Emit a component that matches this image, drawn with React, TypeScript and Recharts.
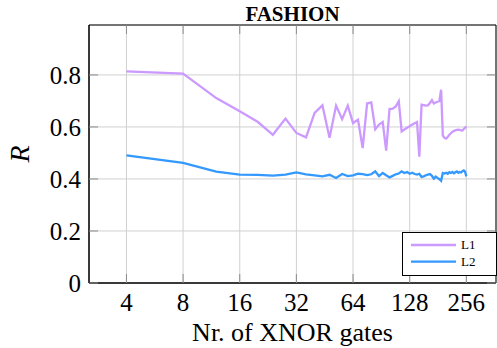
import { LineChart, Line, XAxis, YAxis, CartesianGrid, Legend, ReferenceArea } from 'recharts'

// number of XNOR gates per run
const GATES = [
  4, 8, 12, 16, 20, 24, 28, 32,
  36, 40, 44, 48, 52, 56, 60, 64,
  68, 72, 76, 80, 84, 88, 92, 96,
  100, 104, 108, 112, 116, 120, 124, 128,
  132, 136, 140, 144, 148, 152, 156, 160,
  164, 168, 172, 176, 180, 184, 188, 192,
  196, 200, 204, 208, 212, 216, 220, 224,
  228, 232, 236, 240, 244, 248, 252, 256,
]

const L1 = [
  0.814, 0.805, 0.711, 0.66, 0.619, 0.57, 0.632, 0.577,
  0.56, 0.654, 0.683, 0.558, 0.682, 0.63, 0.682, 0.615,
  0.628, 0.519, 0.69, 0.694, 0.591, 0.609, 0.619, 0.509,
  0.669, 0.67, 0.679, 0.699, 0.583, 0.59, 0.597, 0.603,
  0.609, 0.614, 0.619, 0.486, 0.686, 0.684, 0.682, 0.683,
  0.692, 0.703, 0.69, 0.694, 0.697, 0.699, 0.743, 0.567,
  0.558, 0.555, 0.562, 0.57, 0.576, 0.582, 0.585, 0.587,
  0.589, 0.59, 0.589, 0.587, 0.586, 0.592, 0.597, 0.601,
]

const L2 = [
  0.491, 0.462, 0.428, 0.417, 0.416, 0.413, 0.417, 0.425,
  0.418, 0.414, 0.41, 0.416, 0.404, 0.419, 0.411, 0.414,
  0.42, 0.419, 0.415, 0.418, 0.429, 0.411, 0.423, 0.414,
  0.406, 0.412, 0.418, 0.421, 0.429, 0.423, 0.427, 0.42,
  0.424, 0.419, 0.417, 0.42, 0.408, 0.41, 0.414, 0.417,
  0.419, 0.412, 0.401, 0.409, 0.404, 0.399, 0.393, 0.423,
  0.421, 0.424, 0.42, 0.426, 0.423, 0.427, 0.422, 0.426,
  0.429, 0.424, 0.427, 0.425, 0.43, 0.433, 0.428, 0.41,
]

const X_TICKS = [4, 8, 16, 32, 64, 128, 256]
const Y_TICKS = [0, 0.2, 0.4, 0.6, 0.8]
const X_DOMAIN = [2.53, 368]
const Y_DOMAIN = [0, 0.992]

const FONT = '"Liberation Serif", "DejaVu Serif", serif'
const L1_COLOR = '#cc99ff'
const L2_COLOR = '#3399ff'
const GRID_COLOR = '#d0d0d0'
const TICK_COLOR = '#8c8c8c'
const TICK_LEN = 9
const PLOT_TOP = 25
const PLOT_RIGHT = 496

const data = GATES.map((g, i) => ({ gates: g, l1: L1[i], l2: L2[i] }))

// ticks are drawn inward on both sides, pgfplots style
// eslint-disable-next-line @typescript-eslint/no-explicit-any
function XTick({ x, y, payload }: any) {
  return (
    <g>
      <line x1={x} x2={x} y1={y} y2={y - TICK_LEN} stroke={TICK_COLOR} />
      <line x1={x} x2={x} y1={PLOT_TOP} y2={PLOT_TOP + TICK_LEN} stroke={TICK_COLOR} />
      <text x={x} y={y + 28} textAnchor="middle" fontSize={25} fontFamily={FONT} fill="#000">
        {payload.value}
      </text>
    </g>
  )
}

// eslint-disable-next-line @typescript-eslint/no-explicit-any
function YTick({ x, y, payload }: any) {
  return (
    <g>
      <line x1={x} x2={x + TICK_LEN} y1={y} y2={y} stroke={TICK_COLOR} />
      <line x1={PLOT_RIGHT} x2={PLOT_RIGHT - TICK_LEN} y1={y} y2={y} stroke={TICK_COLOR} />
      <text x={x - 8} y={y + 9} textAnchor="end" fontSize={25} fontFamily={FONT} fill="#000">
        {String(payload.value)}
      </text>
    </g>
  )
}

// eslint-disable-next-line @typescript-eslint/no-explicit-any
function YLabel(props: any) {
  const vb = props.viewBox
  const cy = vb.y + vb.height / 2
  return (
    <text
      x={29}
      y={cy}
      transform={`rotate(-90 29 ${cy})`}
      textAnchor="middle"
      fontSize={28}
      fontStyle="italic"
      fontFamily={FONT}
      fill="#000"
    >
      R
    </text>
  )
}

function LegendBox() {
  return (
    <div style={{ width: 95, height: 44, boxSizing: 'border-box', border: '1px solid #000', background: '#fff' }}>
      <svg width={93} height={42} style={{ display: 'block' }}>
        <line x1={8} x2={53} y1={12} y2={12} stroke={L1_COLOR} strokeWidth={2.3} />
        <text x={58} y={16} fontSize={13} fontFamily={FONT} fill="#000">L1</text>
        <line x1={8} x2={53} y1={28.7} y2={28.7} stroke={L2_COLOR} strokeWidth={2.3} />
        <text x={58} y={32.5} fontSize={13} fontFamily={FONT} fill="#000">L2</text>
      </svg>
    </div>
  )
}

export default function App() {
  return (
    <div style={{ position: 'absolute', left: 0, top: 0, width: 497, height: 348, background: '#fff' }}>
      <LineChart width={497} height={348} data={data} margin={{ top: PLOT_TOP, right: 1, bottom: 0, left: 0 }}>
        <CartesianGrid stroke={GRID_COLOR} strokeWidth={1} />
        <XAxis
          dataKey="gates"
          type="number"
          scale="log"
          domain={X_DOMAIN}
          ticks={X_TICKS}
          interval={0}
          allowDataOverflow
          height={65}
          tickSize={0}
          tickMargin={0}
          tickLine={false}
          axisLine={{ stroke: '#000' }}
          tick={<XTick />}
          label={{
            value: 'Nr. of XNOR gates',
            position: 'insideBottom',
            offset: 7,
            fontSize: 26,
            fontFamily: FONT,
            fill: '#000',
          }}
        />
        <YAxis
          type="number"
          domain={Y_DOMAIN}
          ticks={Y_TICKS}
          interval={0}
          allowDataOverflow
          width={89}
          tickSize={0}
          tickMargin={0}
          tickLine={false}
          axisLine={{ stroke: '#000' }}
          tick={<YTick />}
          label={YLabel}
        />
        <ReferenceArea
          x1={X_DOMAIN[0]}
          x2={X_DOMAIN[1]}
          y1={Y_DOMAIN[0]}
          y2={Y_DOMAIN[1]}
          fill="none"
          stroke="#000"
          strokeWidth={1}
          ifOverflow="visible"
        />
        <Line dataKey="l1" name="L1" type="linear" stroke={L1_COLOR} strokeWidth={2.3} dot={false} isAnimationActive={false} />
        <Line dataKey="l2" name="L2" type="linear" stroke={L2_COLOR} strokeWidth={2.3} dot={false} isAnimationActive={false} />
        <Legend
          layout="vertical"
          align="center"
          verticalAlign="middle"
          content={<LegendBox />}
          wrapperStyle={{ left: 402, top: 232, width: 95, height: 44 }}
        />
      </LineChart>
      <svg width={497} height={30} style={{ position: 'absolute', left: 0, top: 0, pointerEvents: 'none' }}>
        <text x={292.5} y={20.5} textAnchor="middle" fontSize={21} fontWeight="bold" fontFamily={FONT} fill="#000">
          FASHION
        </text>
      </svg>
    </div>
  )
}
